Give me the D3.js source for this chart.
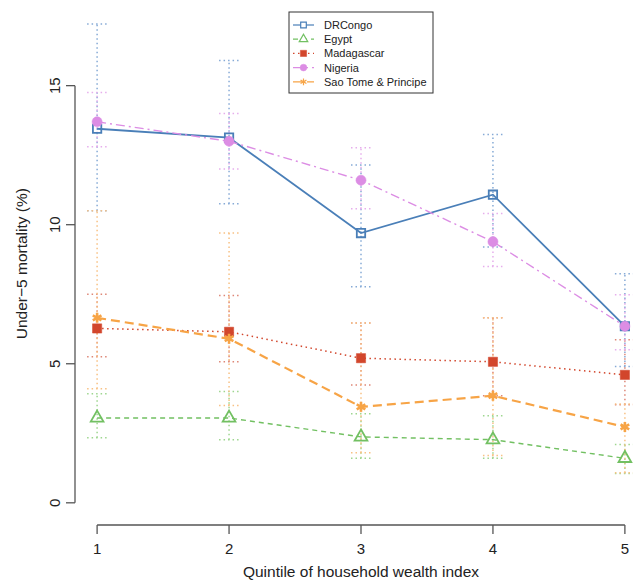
<!DOCTYPE html>
<html>
<head>
<meta charset="utf-8">
<script src="https://cdn.jsdelivr.net/npm/d3@7"></script>
<style>
  body { margin: 0; background: #fff; }
  svg { font-family: "Liberation Sans", Arial, sans-serif; }
</style>
</head>
<body>
<svg id="chart" width="633" height="581"></svg>
<script>
// quintiles on the x axis
const quintiles = [1, 2, 3, 4, 5];
const xTicks = [1, 2, 3, 4, 5];
const yTicks = [0, 5, 10, 15];

// under-5 mortality (%) per country, with lower / upper CI
const drcongo = [13.45, 13.13, 9.7, 11.08, 6.35];
const drcongoLo = [10.5, 10.75, 7.77, 9.2, 4.9];
const drcongoHi = [17.22, 15.9, 12.15, 13.24, 8.24];

const egypt = [3.05, 3.05, 2.37, 2.27, 1.6];
const egyptLo = [2.34, 2.27, 1.6, 1.6, 1.05];
const egyptHi = [3.92, 4.0, 3.2, 3.13, 2.1];

const madagascar = [6.27, 6.15, 5.2, 5.07, 4.6];
const madagascarLo = [5.25, 5.07, 4.24, 3.85, 3.53];
const madagascarHi = [7.5, 7.45, 6.47, 6.65, 5.86];

const nigeria = [13.7, 13.0, 11.6, 9.39, 6.35];
const nigeriaLo = [12.8, 12.0, 10.57, 8.5, 5.5];
const nigeriaHi = [14.75, 14.0, 12.77, 10.4, 7.48];

const saotome = [6.65, 5.9, 3.45, 3.85, 2.73];
const saotomeLo = [4.1, 3.5, 1.8, 1.7, 1.08];
const saotomeHi = [10.5, 9.7, 6.47, 6.65, 3.55];

const seriesNames = ["DRCongo", "Egypt", "Madagascar", "Nigeria", "Sao Tome & Principe"];

const series = [
    {name: seriesNames[0], v: drcongo, lo: drcongoLo, hi: drcongoHi, color: "#4a7fb8", ci: "#86aad6",
     dash: null, width: 1.8, sym: d3.symbolSquare, size: 70, fill: false, sw: 1.8},
    {name: seriesNames[1], v: egypt, lo: egyptLo, hi: egyptHi, color: "#72c062", ci: "#9ed68f",
     dash: "5,4", width: 1.4, sym: d3.symbolTriangle, size: 70, fill: false, sw: 1.8},
    {name: seriesNames[2], v: madagascar, lo: madagascarLo, hi: madagascarHi, color: "#d2462c", ci: "#de8777",
     dash: "1.5,3.5", width: 1.5, sym: d3.symbolSquare, size: 85, fill: true, sw: 0.5},
    {name: seriesNames[3], v: nigeria, lo: nigeriaLo, hi: nigeriaHi, color: "#dc8de4", ci: "#e6aeec",
     dash: "9,4,2,4", width: 1.4, sym: d3.symbolCircle, size: 80, fill: true, sw: 0.5},
    {name: seriesNames[4], v: saotome, lo: saotomeLo, hi: saotomeHi, color: "#f7a446", ci: "#f8c184",
     dash: "9,5", width: 2.2, sym: d3.symbolAsterisk, size: 70, fill: false, sw: 2.6}
];

const svg = d3.select("#chart");

const x = d3.scaleLinear().domain([0.84, 5.16]).range([76, 646]);
const y = d3.scaleLinear().domain([-0.69, 17.9]).range([522, 5]);

// axes, R style: no box, lines only over the tick range
const axisColor = "#555";
const tickLen = 9;
const xAxis = svg.append("g").attr("transform", "translate(0,525)");
xAxis.append("line")
    .attr("x1", x(1)).attr("x2", x(5))
    .attr("stroke", axisColor).attr("stroke-width", 1.3);
xAxis.selectAll(".xt").data(xTicks).enter().append("line")
    .attr("x1", d => x(d)).attr("x2", d => x(d))
    .attr("y1", 0).attr("y2", tickLen)
    .attr("stroke", axisColor).attr("stroke-width", 1.3);
xAxis.selectAll(".xl").data(xTicks).enter().append("text")
    .attr("x", d => x(d)).attr("y", 29)
    .attr("text-anchor", "middle")
    .attr("font-size", 15).attr("fill", "#222")
    .text(d => d);

svg.append("text")
    .attr("x", (x(1) + x(5)) / 2).attr("y", 577)
    .attr("text-anchor", "middle")
    .attr("font-size", 15.5).attr("fill", "#222")
    .text("Quintile of household wealth index");

const yAxis = svg.append("g").attr("transform", "translate(75,0)");
yAxis.append("line")
    .attr("y1", y(0)).attr("y2", y(15))
    .attr("stroke", axisColor).attr("stroke-width", 1.3);
yAxis.selectAll(".yt").data(yTicks).enter().append("line")
    .attr("y1", d => y(d)).attr("y2", d => y(d))
    .attr("x1", 0).attr("x2", -tickLen)
    .attr("stroke", axisColor).attr("stroke-width", 1.3);
yAxis.selectAll(".yl").data(yTicks).enter().append("text")
    .attr("transform", d => "translate(-15," + y(d) + ") rotate(-90)")
    .attr("text-anchor", "middle")
    .attr("font-size", 15).attr("fill", "#222")
    .text(d => d);

svg.append("text")
    .attr("transform", "translate(27," + y(8.6) + ") rotate(-90)")
    .attr("text-anchor", "middle")
    .attr("font-size", 15.5).attr("fill", "#222")
    .text("Under\u22125 mortality (%)");

// error bars
const capHalf = 10;
series.forEach(s => {
    const g = svg.append("g");
    quintiles.forEach((q, i) => {
        g.append("line")
            .attr("x1", x(q)).attr("x2", x(q))
            .attr("y1", y(s.lo[i])).attr("y2", y(s.hi[i]))
            .attr("stroke", s.ci).attr("stroke-width", 1.5)
            .attr("stroke-dasharray", "1.5,3");
        [s.lo[i], s.hi[i]].forEach(v => {
            g.append("line")
                .attr("x1", x(q) - capHalf).attr("x2", x(q) + capHalf)
                .attr("y1", y(v)).attr("y2", y(v))
                .attr("stroke", s.ci).attr("stroke-width", 1.5)
                .attr("stroke-dasharray", "1.5,3");
        });
    });
});

// lines and markers
const line = d3.line().x((d, i) => x(quintiles[i])).y(d => y(d));
series.forEach(s => {
    svg.append("path")
        .datum(s.v)
        .attr("d", line)
        .attr("fill", "none")
        .attr("stroke", s.color)
        .attr("stroke-width", s.width)
        .attr("stroke-dasharray", s.dash);
    svg.append("g").selectAll("path")
        .data(s.v)
        .enter().append("path")
        .attr("transform", (d, i) => "translate(" + x(quintiles[i]) + "," + y(d) + ")")
        .attr("d", d3.symbol().type(s.sym).size(s.size))
        .attr("fill", s.fill ? s.color : "#fff")
        .attr("fill-opacity", s.fill ? 1 : 0)
        .attr("stroke", s.color)
        .attr("stroke-width", s.sw);
});

// legend
const lg = svg.append("g").attr("transform", "translate(289,12)");
lg.append("rect")
    .attr("width", 144).attr("height", 81)
    .attr("fill", "#fff").attr("stroke", "#333").attr("stroke-width", 1);
series.forEach((s, i) => {
    const yy = 13 + i * 14.2;
    lg.append("line")
        .attr("x1", 4).attr("x2", 25)
        .attr("y1", yy).attr("y2", yy)
        .attr("stroke", s.color).attr("stroke-width", 1.2)
        .attr("stroke-dasharray", s.dash);
    lg.append("path")
        .attr("transform", "translate(14.5," + yy + ")")
        .attr("d", d3.symbol().type(s.sym).size(s.size * 0.45))
        .attr("fill", s.fill ? s.color : "#fff")
        .attr("stroke", s.color)
        .attr("stroke-width", s.fill ? 0.5 : 1.2);
    lg.append("text")
        .attr("x", 35).attr("y", yy + 4)
        .attr("font-size", 11).attr("fill", "#222")
        .text(s.name);
});
</script>
</body>
</html>
